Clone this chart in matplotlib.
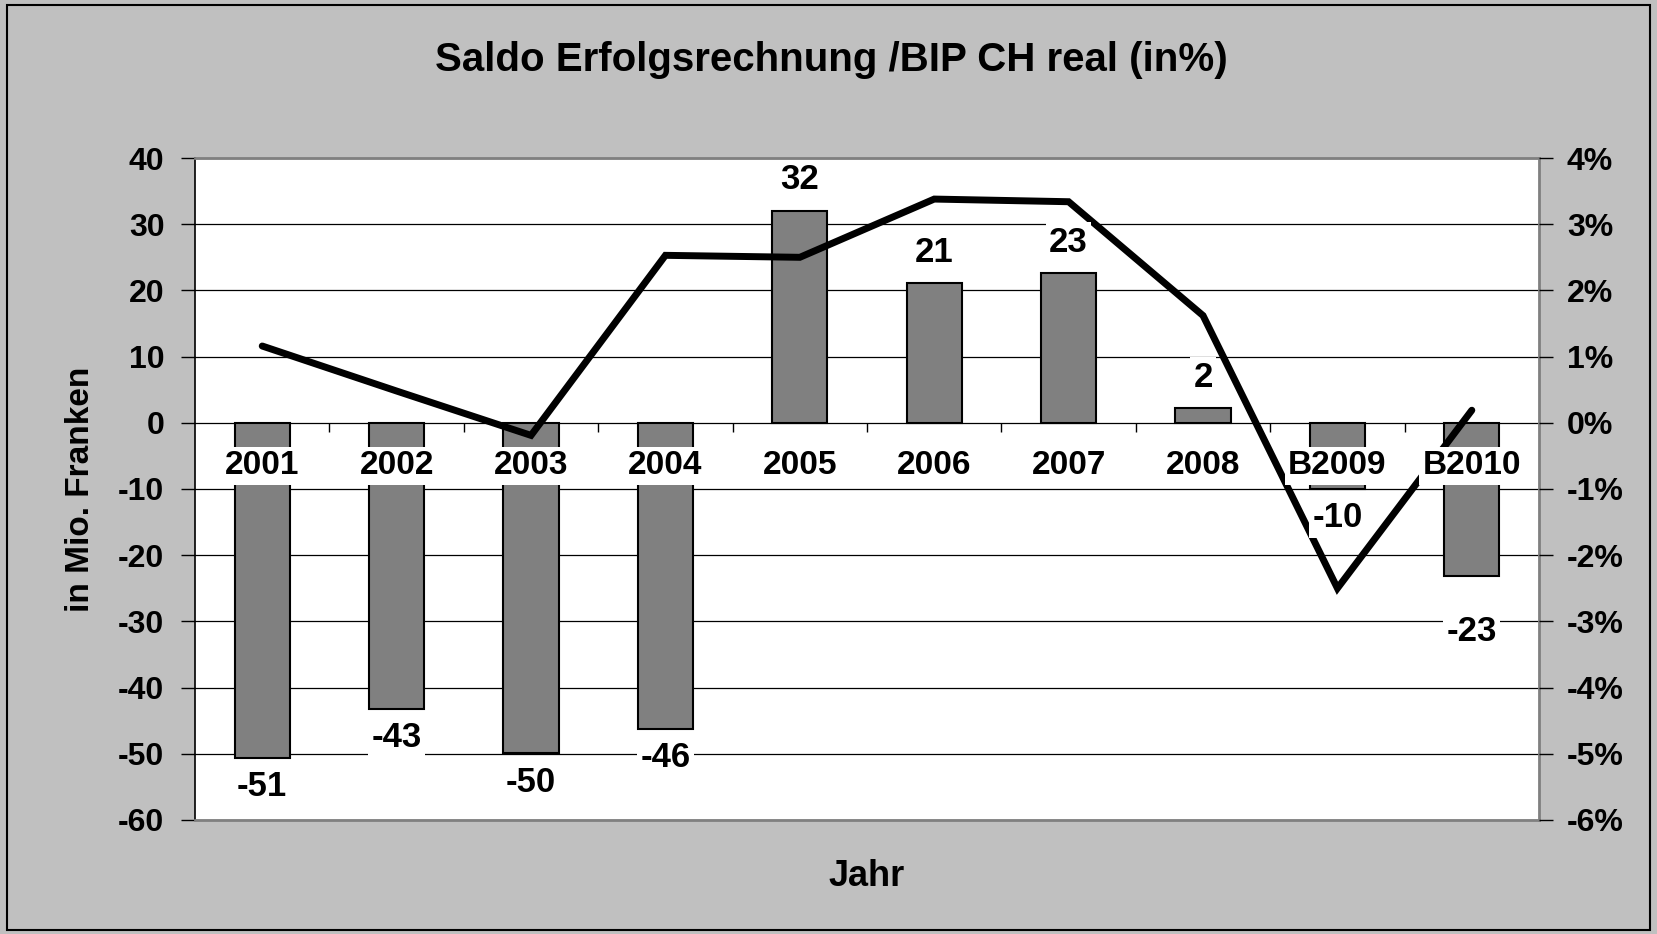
import numpy as np
import matplotlib
matplotlib.use('Agg')
import matplotlib.pyplot as plt
from matplotlib.patches import Rectangle

plt.rcParams['font.family'] = ['Liberation Sans', 'DejaVu Sans']
plt.rcParams['font.weight'] = 'bold'
plt.rcParams['axes.unicode_minus'] = False

# data
jahre = ['2001', '2002', '2003', '2004', '2005', '2006', '2007', '2008', 'B2009', 'B2010']
saldo = [-50.6, -43.2, -49.9, -46.2, 32.0, 21.1, 22.6, 2.2, -10.0, -23.1]   # Mio. Franken
saldo_bip = [1.16, 0.48, -0.19, 2.53, 2.50, 3.38, 3.34, 1.62, -2.50, 0.19]  # in %

fs = 23
bg = '#c0c0c0'

fig = plt.figure(figsize=(16.57, 9.34), dpi=100)
fig.patch.set_facecolor(bg)
# outer frame
fig.patches.append(Rectangle((0.004, 0.004), 0.992, 0.991, transform=fig.transFigure,
                             fill=False, edgecolor='black', lw=1.5))

ax = fig.add_axes([0.1177, 0.1221, 0.8111, 0.7087])
ax.set_facecolor('white')
x = np.arange(len(jahre))

ax.bar(x, saldo, width=0.41, color='#808080', edgecolor='black', lw=1.5, zorder=2)
ax.set_xlim(-0.5, len(jahre) - 0.5)
ax.set_ylim(-60, 40)
ax.set_yticks(np.arange(-60, 41, 10))
ax.yaxis.grid(True, color='black', lw=0.9, zorder=0)
ax.set_axisbelow(True)
ax.set_xticks([])
ax.tick_params(axis='y', labelsize=fs, length=10, width=1, pad=12, direction='out')
for s in ['top', 'bottom', 'right']:
    ax.spines[s].set_color('#808080')
    ax.spines[s].set_linewidth(2)
ax.spines['left'].set_color('black')
ax.spines['left'].set_linewidth(1.2)

# small category ticks on the zero line
ax.vlines(x[:-1] + 0.5, -1.4, 0, color='black', lw=1, zorder=3)

ax.set_ylabel('in Mio. Franken', fontsize=fs + 1, fontweight='bold', labelpad=16)
ax.set_xlabel('Jahr', fontsize=fs + 3, fontweight='bold', labelpad=28)

ax2 = ax.twinx()
ax2.plot(x, saldo_bip, color='black', lw=5, solid_capstyle='round',
         solid_joinstyle='miter', zorder=2)
ax2.set_ylim(-6, 4)
ax2.set_yticks(np.arange(-6, 5, 1))
ax2.set_yticklabels([f'{v}%' for v in range(-6, 5)])
ax2.tick_params(axis='y', labelsize=fs, length=10, width=1, pad=10, direction='out')
for s in ax2.spines.values():
    s.set_visible(False)

# category labels and value labels, on top of the line
for i, (j, v) in enumerate(zip(jahre, saldo)):
    ax2.text(i, -6.5, j, transform=ax.transData, ha='center', va='center',
             fontsize=fs + 1, fontweight='bold', zorder=5,
             bbox=dict(boxstyle='square,pad=0.1', fc='white', ec='none'))
    off = 31 if v > 0 else -29
    if j == 'B2010':
        off = -56
    ax2.annotate(f'{round(v):d}', (i, v), xycoords=ax.transData,
                 xytext=(0, off * 0.72), textcoords='offset points',
                 ha='center', va='center', fontsize=fs + 2, fontweight='bold', zorder=5,
                 bbox=dict(boxstyle='square,pad=0.1', fc='white', ec='none'))

fig.text(0.502, 0.936, 'Saldo Erfolgsrechnung /BIP CH real (in%)', ha='center', va='center',
         fontsize=fs + 6, fontweight='bold')

fig.savefig('out.png', dpi=100, facecolor=bg)
